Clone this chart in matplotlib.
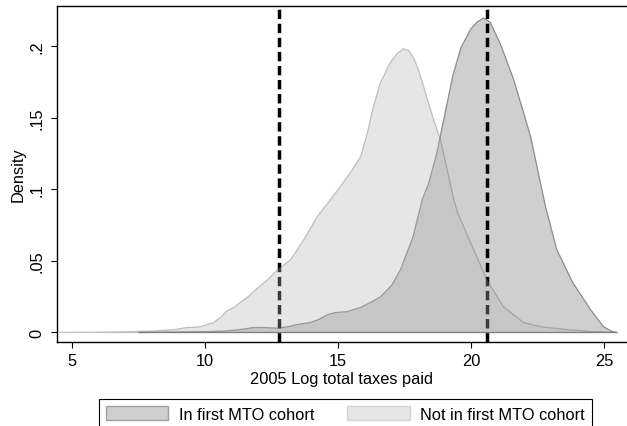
import matplotlib
matplotlib.use("Agg")
import matplotlib.pyplot as plt
from matplotlib.patches import Patch

plt.rcParams['font.family'] = ['Liberation Sans', 'DejaVu Sans']

# Kernel density: Not in first MTO cohort
light_x = [4.5, 6.0, 7.0, 8.0, 8.8, 9.3, 9.8, 10.3, 10.56, 10.8, 11.1, 11.3, 11.6,
           11.95, 12.33, 12.78, 13.2, 13.7, 14.2, 14.7, 15.1, 15.45, 15.83, 16.09,
           16.28, 16.58, 16.95, 17.2, 17.44, 17.65, 17.8, 18.0, 18.2, 18.57, 18.83,
           19.0, 19.32, 19.47, 19.96, 20.6, 21.2, 21.95, 22.6, 23.6, 24.5, 25.5]
light_y = [0.0, 0.0002, 0.0005, 0.001, 0.002, 0.0035, 0.004, 0.007, 0.0105, 0.015,
           0.018, 0.021, 0.025, 0.031, 0.037, 0.045, 0.051, 0.065, 0.081, 0.093,
           0.103, 0.112, 0.123, 0.140, 0.156, 0.175, 0.189, 0.195, 0.1986, 0.197,
           0.193, 0.184, 0.172, 0.149, 0.135, 0.121, 0.094, 0.084, 0.063, 0.036,
           0.018, 0.007, 0.004, 0.002, 0.0007, 0.0]

# Kernel density: In first MTO cohort
dark_x = [7.5, 9.0, 10.0, 10.7, 11.3, 11.8, 12.2, 12.7, 13.1, 13.46, 13.95, 14.3,
          14.6, 14.9, 15.3, 15.83, 16.2, 16.58, 17.0, 17.33, 17.8, 18.15, 18.4,
          18.7, 19.0, 19.3, 19.6, 19.96, 20.2, 20.45, 20.7, 21.09, 21.58, 21.95,
          22.22, 22.48, 22.78, 23.2, 23.8, 24.47, 24.96, 25.3, 25.45]
dark_y = [0.0, 0.0003, 0.0006, 0.001, 0.002, 0.0035, 0.0035, 0.003, 0.004, 0.0056,
          0.007, 0.0095, 0.0126, 0.014, 0.0145, 0.0175, 0.021, 0.025, 0.033, 0.044,
          0.067, 0.093, 0.105, 0.126, 0.153, 0.180, 0.199, 0.212, 0.217, 0.220,
          0.217, 0.2014, 0.177, 0.154, 0.137, 0.114, 0.088, 0.058, 0.035, 0.016,
          0.004, 0.0005, 0.0]

vline_x = [12.78, 20.6]

x_ticks = [5, 10, 15, 20, 25]
y_ticks = [0, 0.05, 0.1, 0.15, 0.2]
y_tick_labels = ['0', '.05', '.1', '.15', '.2']

labels = ['In first MTO cohort', 'Not in first MTO cohort']

FS = 11.8

fig = plt.figure(figsize=(6.27, 4.27), dpi=100)
ax = fig.add_axes([57/627, 1 - 343/427, 570/627, 336/427])

dark_face = '#cfcfcf'
dark_edge = '#8c8c8c'
light_face = '#b4b4b4'
light_edge = '#585858'
light_alpha = 0.33

ax.fill_between(dark_x, dark_y, 0, facecolor=dark_face, edgecolor=dark_edge,
                linewidth=0.9, zorder=1)
for xv in vline_x:
    ax.axvline(xv, color='black', lw=2.5, dashes=(2.7, 1.35), zorder=2)
ax.fill_between(light_x, light_y, 0, facecolor=light_face, edgecolor=light_edge,
                linewidth=0.9, alpha=light_alpha, zorder=3)

ax.set_xlim(4.44, 25.86)
ax.set_ylim(-0.007, 0.228)
ax.set_xticks(x_ticks)
ax.set_xticklabels([str(t) for t in x_ticks])
ax.set_yticks(y_ticks)
ax.set_yticklabels(y_tick_labels, rotation=90, va='center')

for s in ['left', 'top', 'bottom']:
    ax.spines[s].set_linewidth(1.0)
    ax.spines[s].set_color('black')
ax.spines['right'].set_visible(False)

ax.tick_params(axis='both', direction='out', length=4, width=0.8,
               labelsize=FS, colors='black')
ax.tick_params(axis='x', pad=4)
ax.tick_params(axis='y', pad=5)

ax.set_xlabel('2005 Log total taxes paid', fontsize=FS, labelpad=2)
ax.set_ylabel('Density', fontsize=FS, labelpad=3)

handles = [Patch(facecolor=dark_face, edgecolor='#a0a0a0', linewidth=1.0),
           Patch(facecolor='#e6e6e6', edgecolor='#d4d4d4', linewidth=1.0)]
leg = fig.legend(handles, labels, loc='upper center',
                 bbox_to_anchor=(0.551, 1 - 400/427), ncol=2, fontsize=FS,
                 frameon=True, fancybox=False, framealpha=1, edgecolor='black',
                 handlelength=3.8, handleheight=0.92, handletextpad=0.65,
                 columnspacing=2.0, borderpad=0.45, borderaxespad=0)
leg.get_frame().set_linewidth(0.8)

fig.savefig('out.png', dpi=100)
